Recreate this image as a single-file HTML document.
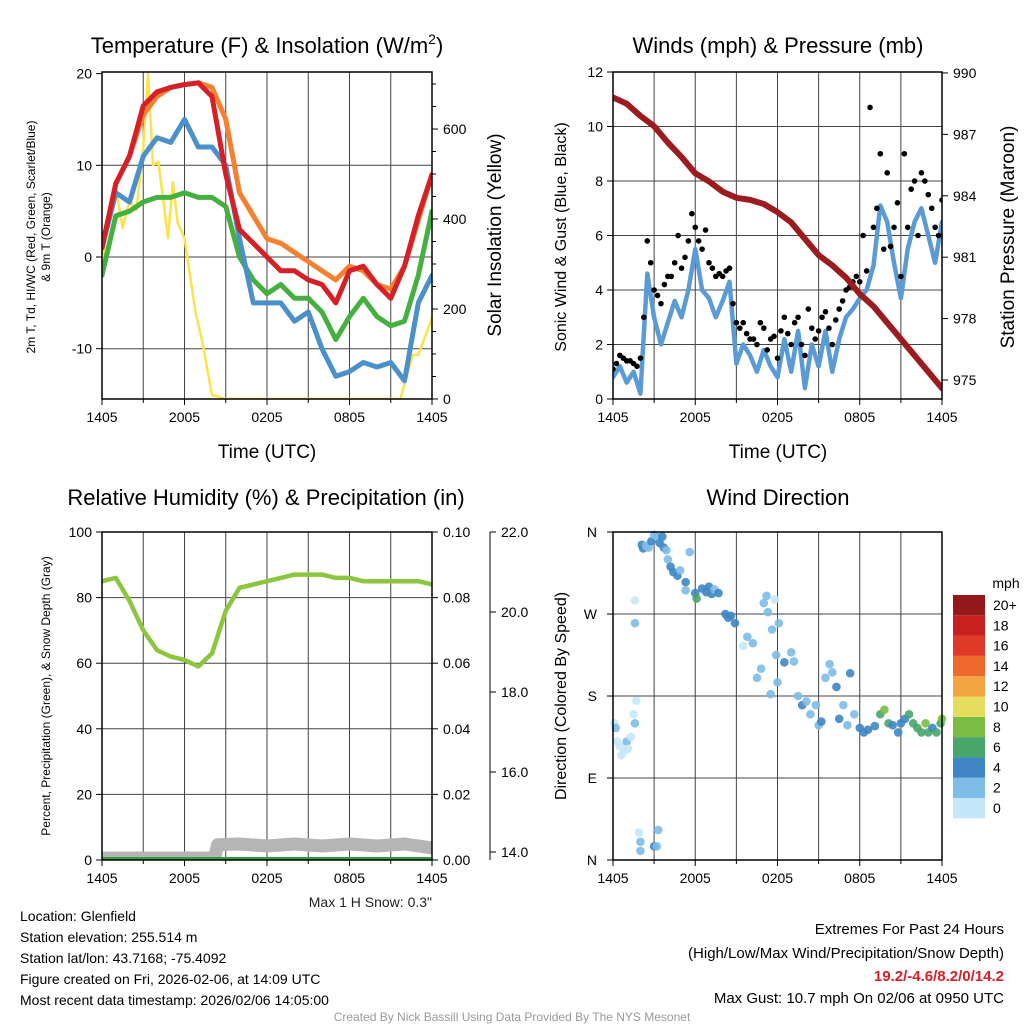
<!DOCTYPE html>
<html><head><meta charset="utf-8"><style>
body{margin:0;background:#fff}
svg{font-family:"Liberation Sans",sans-serif}
</style></head><body>
<svg id="s" width="1024" height="1024" viewBox="0 0 1024 1024" xmlns="http://www.w3.org/2000/svg">
<rect width="1024" height="1024" fill="#fff"/>
</svg>
<script>
const hours = [0,1,2,3,4,5,6,7,8,9,10,11,12,13,14,15,16,17,18,19,20,21,22,23,24];
const tempRed = [1,8,11,16.5,18,18.5,18.8,19,17.5,9,3,1.5,0,-1.5,-1.5,-2.5,-3,-5,-1.5,-1,-3,-4.5,-1,4.5,9];
const temp9m = [1,8,11,15.5,17.5,18.5,18.8,19,18.5,15,7,4.5,2,1.5,0.5,-0.5,-1.5,-2.5,-1,-1.5,-3,-3.5,-1,4,9];
const dewGreen = [-2,4.5,5,6,6.5,6.5,7,6.5,6.5,5.5,0,-2.5,-4,-3,-4.5,-4.5,-6,-9,-6.5,-4.5,-6.5,-7.5,-7,-2,5];
const hiwcBlue = [1,7,6,11,13,12.5,15,12,12,10,2,-5,-5,-5,-7,-6,-10,-13,-12.5,-11.5,-12,-11.5,-13.5,-5,-2];
const insolHours = [0,0.5,1,1.5,2,2.5,3,3.35,3.7,4.1,4.8,5.15,5.5,6,6.8,7.3,8,9,21.7,22.6,23,24];
const insolValues = [298,420,470,380,440,420,560,724,520,527,357,482,393,357,193,127,9,0,0,98,98,180];
const pressure = [988.8,988.5,987.9,987.4,986.6,985.9,985.1,984.7,984.2,983.9,983.8,983.6,983.2,982.7,981.9,981.1,980.6,980.0,979.2,978.6,977.8,977.0,976.2,975.4,974.6];
const windSpeed = [0.8,1.2,0.6,1.0,0.2,4.6,3.0,2.0,2.8,3.6,3.0,4.0,5.5,4.0,3.7,3.0,3.6,4.3,1.3,2.0,1.6,1.0,1.8,1.2,0.8,2.2,1.0,2.5,0.4,2.0,1.2,2.5,1.0,2.2,3.0,3.3,3.7,4.0,4.9,7.1,6.5,5.0,3.7,5.5,6.5,7.0,6.0,5.0,6.5];
const gustA = [1.1,1.6,1.4,1.3,1.5,5.8,4.0,3.5,4.5,5.0,4.8,5.8,6.3,5.5,5.0,4.5,4.5,4.8,2.8,2.8,2.2,2.0,2.6,2.2,1.5,3.0,2.0,3.0,1.6,2.6,2.5,3.2,2.0,3.3,4.0,4.3,4.3,4.7,6.3,9.0,8.3,6.3,4.5,6.3,8.0,8.3,7.5,6.3,7.3];
const gustB = [1.3,1.5,1.4,1.2,3.0,5.0,3.8,4.2,4.5,6.0,5.2,6.8,5.8,6.2,4.8,4.6,4.7,3.5,2.6,2.4,2.2,2.8,1.8,2.3,2.5,2.4,2.8,2.0,3.3,2.2,3.0,2.6,2.9,3.6,4.1,4.5,6.0,10.7,7.0,5.5,5.6,7.2,9.0,7.7,6.0,8.0,7.0,6.0];
const rh = [85,86,79,70,64,62,61,59,63,76,83,84,85,86,87,87,87,86,86,85,85,85,85,85,84];
const precip = [0,0,0,0,0,0,0,0,0,0,0,0,0,0,0,0,0,0,0,0,0,0,0,0,0];
const snowHours = [0,8.2,8.4,10,12,14,16,18,20,22,24];
const snowDepth = [13.85,13.85,14.18,14.2,14.15,14.2,14.15,14.2,14.15,14.2,14.1];
const dirHours = [0.1,0.2,0.3,0.5,0.6,0.8,1.0,1.1,1.3,1.5,1.6,1.6,1.6,1.7,1.9,2.0,2.0,2.1,2.2,2.4,2.6,2.8,3.0,3.2,3.4,3.6,3.7,3.0,3.2,3.3,3.9,4.0,4.2,4.4,4.7,4.9,5.3,5.3,5.6,6.0,6.1,6.5,6.8,7.0,7.2,7.4,7.7,8.2,8.4,8.6,8.9,9.5,9.8,10.2,10.5,10.8,11.0,11.2,11.3,11.6,11.9,11.8,12.1,12.5,12.0,11.5,13.0,13.2,13.5,13.8,14.1,14.4,14.8,15.0,15.2,15.5,15.8,16.0,16.3,16.5,16.8,17.1,17.3,17.6,18.0,18.3,18.6,19.1,19.5,19.8,20.1,20.4,20.8,21.0,21.3,21.6,21.9,22.2,22.5,22.8,23.0,23.3,23.6,23.9,24.0];
const dirValues = [150,145,130,125,115,120,130,122,135,160,150,285,260,175,30,20,10,346,342,345,343,350,357,355,348,355,343,15,15,33,340,330,322,316,312,318,305,296,338,293,287,298,294,300,292,297,293,270,266,268,260,235,245,238,200,210,282,290,272,253,225,286,260,217,195,182,228,218,180,170,174,160,170,148,152,200,215,206,190,155,170,148,205,160,145,140,143,147,160,165,150,148,140,150,155,160,150,145,140,150,140,145,140,150,155];
const dirSpeeds = [0,1,0,0,0,0,1,0,0,0,1,0,1,0,0,1,1,3,3,2,2,3,2,2,3,3,3,3,2,2,2,2,3,3,4,2,3,2,2,3,6,4,3,3,4,2,3,4,4,4,3,0,2,2,2,1,2,2,1,2,2,0,2,3,1,2,1,2,2,3,2,2,2,2,3,1,2,2,3,3,2,2,3,2,3,4,4,4,6,8,6,4,4,4,4,6,6,6,6,8,6,4,6,6,7];
const xTicks = ["1405","2005","0205","0805","1405"];
const scaleLabels = ["0","2","4","6","8","10","12","14","16","18","20+"];
const scaleColors = ["#c4e8fa","#7dbde8","#3f86c4","#48a66b","#7cbc44","#e6dd5e","#f5a442","#ee6a2c","#df3a28","#c81f1f","#95191a"];

const S=document.getElementById('s');const NS='http://www.w3.org/2000/svg';
function el(t,a,p){const e=document.createElementNS(NS,t);for(const k in a)e.setAttribute(k,a[k]);(p||S).appendChild(e);return e;}
function txt(x,y,s,o,p){const e=el('text',Object.assign({x:x,y:y,'font-size':14,fill:'#000'},o||{}),p);e.textContent=s;return e;}
function pts(xs,ys,fx,fy){return xs.map((h,i)=>fx(h).toFixed(1)+','+fy(ys[i]).toFixed(1)).join(' ');}
const defs=el('defs',{});
let clipN=0;
function panel(L,R,T,B,name){
  const g=el('g',{});
  const id='c'+(clipN++);const cp=el('clipPath',{id:id},defs);el('rect',{x:L,y:T,width:R-L,height:B-T},cp);
  const d=el('g',{'clip-path':'url(#'+id+')'},g);
  return {L,R,T,B,g,d,x:h=>L+h*(R-L)/24};
}
function grid(P,hy){
  for(let h=3;h<24;h+=3){const gl=el('line',{x1:P.x(h),x2:P.x(h),y1:P.T,y2:P.B,stroke:'#444','stroke-width':1},P.g);}
  hy.forEach(y=>{const gl=el('line',{x1:P.L,x2:P.R,y1:y,y2:y,stroke:'#444','stroke-width':1},P.g);});
  P.g.appendChild(P.d);
}
function frame(P){const f=el('rect',{x:P.L,y:P.T,width:P.R-P.L,height:P.B-P.T,fill:'none',stroke:'#000','stroke-width':1.5},P.g);
  xTicks.forEach((t,i)=>{const xx=P.x(i*6);const tk=el('line',{x1:xx,x2:xx,y1:P.B,y2:P.B+6,stroke:'#000'},P.g);
    const l=txt(xx,P.B+23,t,{'text-anchor':'middle','font-size':14});});
  for(let h=3;h<24;h+=6){const tk=el('line',{x1:P.x(h),x2:P.x(h),y1:P.B,y2:P.B+4,stroke:'#000'},P.g);}
}
function line(P,xs,ys,fy,color,w,name){const l=el('polyline',{points:pts(xs,ys,P.x,fy),fill:'none',stroke:color,'stroke-width':w,'stroke-linejoin':'round','stroke-linecap':'round'},P.d);return l;}
function yTicksLeft(P,vals,fy,fmt){vals.forEach(v=>{const y=fy(v);const tk=el('line',{x1:P.L-6,x2:P.L,y1:y,y2:y,stroke:'#000'},P.g);
  const l=txt(P.L-10,y+5,fmt(v),{'text-anchor':'end'});});}
function yTicksRight(P,x,vals,fy,fmt){vals.forEach(v=>{const y=fy(v);const tk=el('line',{x1:x,x2:x+6,y1:y,y2:y,stroke:'#000'},P.g);
  const l=txt(x+11,y+5,fmt(v),{'text-anchor':'start'});});}
function rot(x,y,s,size,name){const t=txt(x,y,s,{'font-size':size,'text-anchor':'middle',transform:`rotate(-90 ${x} ${y})`});return t;}
function title(x,y,s,name,size){const t=txt(x,y,s,{'font-size':size||22,'text-anchor':'middle'});return t;}

// Panel 1
const P1=panel(102,432,72,399,'temperature-panel');
const fy1=v=>257-v*9.17, fi1=v=>399-v*0.45;
grid(P1,[fy1(10),fy1(0),fy1(-10)]);
line(P1,insolHours,insolValues,fi1,'#fde249',2.5,'insolation-line');
line(P1,hours,temp9m,fy1,'#f48030',5,'temp-9m-line');
line(P1,hours,dewGreen,fy1,'#45b040',5,'dewpoint-line');
line(P1,hours,hiwcBlue,fy1,'#4a90c9',5,'heat-index-windchill-line');
line(P1,hours,tempRed,fy1,'#d42026',5,'temp-2m-line');
frame(P1);
yTicksLeft(P1,[20,10,0,-10],fy1,v=>String(v));
yTicksRight(P1,432,[0,200,400,600],fi1,v=>String(v));
for(let v=50;v<720;v+=50){if(v%200){const tk=el('line',{x1:432,x2:436,y1:fi1(v),y2:fi1(v),stroke:'#000'},P1.g);}}
const t1=title(267,53,'Temperature (F) & Insolation (W/m','chart-title-temperature');const sup=el('tspan',{dy:-9,'font-size':14},t1);sup.textContent='2';const cl=el('tspan',{dy:9},t1);cl.textContent=')';
title(267,458,'Time (UTC)','x-axis-title-temperature',19);
rot(35,237,'2m T, Td, HI/WC (Red, Green, Scarlet/Blue)',12,'y-axis-title-temperature');
rot(50,237,'& 9m T (Orange)',12,'y-axis-title-temperature-2');
rot(501,235,'Solar Insolation (Yellow)',19,'y2-axis-title-insolation');

// Panel 2
const P2=panel(613,942,72,399,'wind-pressure-panel');
const fy2=v=>399-v*27.25, fp2=p=>380-(p-975)*20.47;
grid(P2,[2,4,6,8,10].map(fy2));
const halfH=windSpeed.map((_,i)=>i*0.5), qH=gustB.map((_,i)=>i*0.5+0.25);
line(P2,halfH,windSpeed,fy2,'#5b9bd5',4.5,'sonic-wind-line');
gustA.forEach((v,i)=>{const c=el('circle',{cx:P2.x(halfH[i]),cy:fy2(v),r:2.8,fill:'#000'},P2.d);});
gustB.forEach((v,i)=>{const c=el('circle',{cx:P2.x(qH[i]),cy:fy2(v),r:2.8,fill:'#000'},P2.d);});
line(P2,hours,pressure,fp2,'#9b1b1e',6,'pressure-line');
frame(P2);
yTicksLeft(P2,[0,2,4,6,8,10,12],fy2,v=>String(v));
yTicksRight(P2,942,[975,978,981,984,987,990],fp2,v=>String(v));
title(778,53,'Winds (mph) & Pressure (mb)','chart-title-winds');
title(778,458,'Time (UTC)','x-axis-title-winds',19);
rot(566,237,'Sonic Wind & Gust (Blue, Black)',16,'y-axis-title-wind');
rot(1014,237,'Station Pressure (Maroon)',19,'y2-axis-title-pressure');

// Panel 3
const P3=panel(102,432,532,860,'humidity-panel');
const fy3=v=>860-v*3.28, fs3=s=>852-(s-14)*40;
grid(P3,[20,40,60,80].map(fy3));
line(P3,snowHours,snowDepth,fs3,'#b5b5b5',13,'snow-depth-line');
line(P3,hours,precip,v=>860-v*3280,'#2f9e3a',6,'precip-line');
line(P3,hours,rh,fy3,'#8cc63f',4.5,'rh-line');
frame(P3);
yTicksLeft(P3,[0,20,40,60,80,100],fy3,v=>String(v));
yTicksRight(P3,432,[0,0.02,0.04,0.06,0.08,0.10],v=>860-v*3280,v=>v.toFixed(2));
const ax=el('line',{x1:490,x2:490,y1:532,y2:860,stroke:'#000'},P3.g);
yTicksRight(P3,490,[14,16,18,20,22],fs3,v=>v.toFixed(1));
title(266,505,'Relative Humidity (%) & Precipitation (in)','chart-title-humidity');
rot(50,696,'Percent, Precipitation (Green), & Snow Depth (Gray)',12,'y-axis-title-humidity');
{const t=txt(432,907,'Max 1 H Snow: 0.3"',{'text-anchor':'end','font-size':14,fill:'#222'});}

// Panel 4
const P4=panel(613,942,532,860,'wind-direction-panel');
const fd4=d=>860-d*0.911;
grid(P4,[270,180,90].map(fd4));
dirHours.forEach((h,i)=>{const idx=Math.min(10,Math.round(dirSpeeds[i]/2+0.01));const c=el('circle',{cx:P4.x(h),cy:fd4(dirValues[i]),r:4.3,fill:scaleColors[idx],'fill-opacity':0.9},P4.g);});
frame(P4);
[['N',360],['W',270],['S',180],['E',90],['N',0]].forEach(([l,d])=>{const y=fd4(d);const tk=el('line',{x1:607,x2:613,y1:y,y2:y,stroke:'#000'},P4.g);const t=txt(597,y+5,l,{'text-anchor':'end'});});
title(778,505,'Wind Direction','chart-title-direction');
rot(566,696,'Direction (Colored By Speed)',16,'y-axis-title-direction');
{const g=el('g',{});
 const t=txt(1006,588,'mph',{'text-anchor':'middle'},g);
 scaleLabels.forEach((l,i)=>{const y=798-i*20.3;const r=el('rect',{x:953,y:y,width:32,height:20.3,fill:scaleColors[i]},g);
  const tt=txt(993,y+15,l,{},g);});}

// Footer text
['Location: Glenfield','Station elevation: 255.514 m','Station lat/lon: 43.7168; -75.4092','Figure created on Fri, 2026-02-06, at 14:09 UTC','Most recent data timestamp: 2026/02/06 14:05:00'].forEach((s,i)=>{const t=txt(20,921+i*21,s);});
[['Extremes For Past 24 Hours',934,'#000',''],['(High/Low/Max Wind/Precipitation/Snow Depth)',958,'#000',''],['19.2/-4.6/8.2/0/14.2',981,'#d42026','bold'],['Max Gust: 10.7 mph On 02/06 at 0950 UTC',1003,'#000','']].forEach(([s,y,c,w])=>{const t=txt(1004,y,s,{'text-anchor':'end',fill:c,'font-weight':w||'normal','font-size':15});});
{const t=txt(512,1021,'Created By Nick Bassill Using Data Provided By The NYS Mesonet',{'text-anchor':'middle','font-size':12,fill:'#999'});}
</script>
</body></html>
